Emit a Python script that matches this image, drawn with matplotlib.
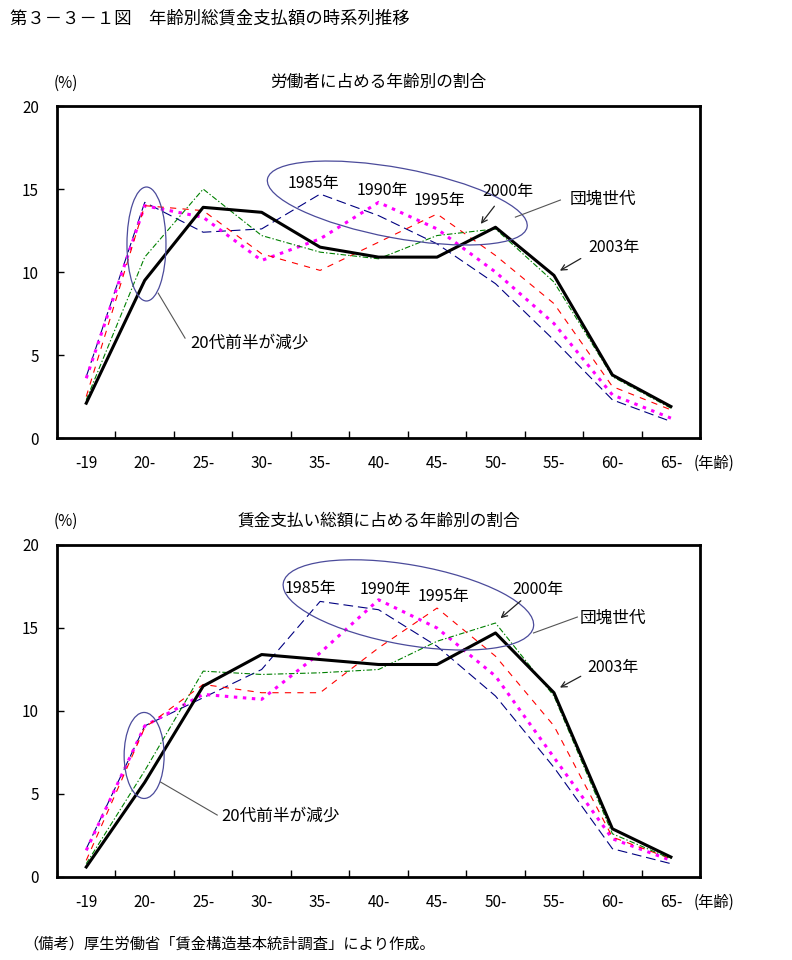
import matplotlib.pyplot as plt
from matplotlib.patches import Ellipse
from matplotlib import transforms

plt.rcParams['font.family'] = ['Noto Sans CJK JP', 'DejaVu Sans']
plt.rcParams['lines.scale_dashes'] = False

ages = ["-19", "20-", "25-", "30-", "35-", "40-", "45-", "50-", "55-", "60-", "65-"]
years = ["1985", "1990", "1995", "2000", "2003"]

# 労働者に占める年齢別の割合 (%)
workers = {
    "1985": [3.7, 14.2, 12.4, 12.6, 14.7, 13.4, 11.7, 9.3, 5.9, 2.3, 1.0],
    "1990": [3.6, 14.0, 13.3, 10.7, 12.0, 14.2, 12.6, 10.0, 6.9, 2.6, 1.2],
    "1995": [2.5, 14.0, 13.7, 11.1, 10.1, 11.8, 13.5, 11.0, 8.1, 3.1, 1.7],
    "2000": [2.3, 10.9, 15.0, 12.2, 11.2, 10.8, 12.2, 12.6, 9.4, 3.7, 1.8],
    "2003": [2.1, 9.5, 13.9, 13.6, 11.5, 10.9, 10.9, 12.7, 9.8, 3.8, 1.9],
}

# 賃金支払い総額に占める年齢別の割合 (%)
wages = {
    "1985": [1.7, 9.1, 10.8, 12.5, 16.6, 16.1, 13.9, 10.9, 6.6, 1.7, 0.8],
    "1990": [1.6, 9.1, 11.0, 10.7, 13.5, 16.7, 15.0, 12.1, 7.2, 2.3, 1.0],
    "1995": [1.0, 9.0, 11.6, 11.1, 11.1, 13.8, 16.2, 13.3, 9.1, 2.4, 1.1],
    "2000": [0.8, 6.4, 12.4, 12.2, 12.3, 12.5, 14.2, 15.3, 10.9, 2.6, 1.1],
    "2003": [0.6, 5.7, 11.5, 13.4, 13.1, 12.8, 12.8, 14.7, 11.1, 2.9, 1.2],
}

styles = {
    "1985": dict(color="#000080", lw=0.8, dashes=(7, 3.5)),
    "1990": dict(color="#ff00ff", lw=2.2, dashes=(2.5, 4)),
    "1995": dict(color="#ff0000", lw=0.8, dashes=(4.5, 4.5)),
    "2000": dict(color="#008000", lw=0.8, dashes=(4, 1.5, 1, 1.5)),
    "2003": dict(color="black", lw=2.2),
}

fig = plt.figure(figsize=(7.92, 9.6), dpi=100)
fig.text(0.013, 0.981, "第３－３－１図　年齢別総賃金支払額の時系列推移",
         fontsize=12.5, ha="left", va="center")
fig.text(0.03, 0.017, "（備考）厚生労働省「賃金構造基本統計調査」により作成。",
         fontsize=11, ha="left", va="center")

ax_top = fig.add_axes([0.072, 0.5437, 0.812, 0.3458])
ax_bot = fig.add_axes([0.072, 0.0865, 0.812, 0.3458])

panels = [
    (ax_top, workers, "労働者に占める年齢別の割合"),
    (ax_bot, wages, "賃金支払い総額に占める年齢別の割合"),
]

x = list(range(len(ages)))
for ax, data, title in panels:
    for yr in years:
        st = styles[yr]
        kw = dict(color=st["color"], linewidth=st["lw"], zorder=5 if yr == "2003" else 3)
        if "dashes" in st:
            kw["dashes"] = st["dashes"]
        ax.plot(x, data[yr], **kw)
    ax.set_xlim(-0.5, 10.5)
    ax.set_ylim(0, 20)
    ax.set_yticks([0, 5, 10, 15, 20])
    ax.set_xticks([i + 0.5 for i in range(-1, 11)], minor=False)
    ax.set_xticklabels([])
    ax.set_xticks(x, minor=True)
    ax.set_xticklabels(ages, minor=True)
    ax.tick_params(axis="x", which="major", direction="in", length=5, width=1)
    ax.tick_params(axis="x", which="minor", length=0, pad=12, labelsize=11)
    ax.tick_params(axis="y", direction="in", length=5, width=1, pad=13, labelsize=11)
    for s in ax.spines.values():
        s.set_linewidth(2)
    ax.set_title(title, fontsize=12, pad=14)
    ax.text(-0.005, 1.07, "(%)", transform=ax.transAxes, fontsize=11, ha="left", va="center")
    ax.text(0.99, -0.077, "(年齢)", transform=ax.transAxes, fontsize=11, ha="left", va="center")


def ellipse(ax, cx, cy, w_px, h_px, angle=0):
    tr = fig.dpi_scale_trans + transforms.ScaledTranslation(cx, cy, ax.transData)
    e = Ellipse((0, 0), w_px / 100, h_px / 100, angle=angle, transform=tr,
                fill=False, edgecolor="#4b4b9b", linewidth=0.9, zorder=6)
    ax.add_patch(e)


def label(ax, s, xy, size=11.5):
    ax.text(xy[0], xy[1], s, fontsize=size, ha="center", va="center", zorder=7)


def arrow(ax, start, tip):
    ax.annotate("", xy=tip, xytext=start,
                arrowprops=dict(arrowstyle="->", color="#222222", lw=0.9), zorder=7)


def leader(ax, start, end):
    ax.plot([start[0], end[0]], [start[1], end[1]], color="#555555", lw=0.8, zorder=6)


# top panel annotations
ellipse(ax_top, 1.03, 11.69, 39, 114)
ellipse(ax_top, 5.32, 14.16, 264, 70, -10.5)
label(ax_top, "1985年", (3.88, 15.36))
label(ax_top, "1990年", (5.06, 14.94))
label(ax_top, "1995年", (6.04, 14.34))
label(ax_top, "2000年", (7.22, 14.88))
label(ax_top, "団塊世代", (8.83, 14.4), 12)
label(ax_top, "2003年", (9.03, 11.5))
label(ax_top, "20代前半が減少", (2.8, 5.72), 12)
arrow(ax_top, (7.01, 14.1), (6.72, 12.77))
arrow(ax_top, (8.5, 10.9), (8.06, 10.0))
leader(ax_top, (8.11, 14.34), (7.34, 13.31))
leader(ax_top, (1.69, 6.02), (1.23, 8.73))

# bottom panel annotations
ellipse(ax_bot, 0.99, 7.32, 40, 86)
ellipse(ax_bot, 5.51, 16.39, 254, 80, -10)
label(ax_bot, "1985年", (3.83, 17.35))
label(ax_bot, "1990年", (5.11, 17.29))
label(ax_bot, "1995年", (6.11, 16.87))
label(ax_bot, "2000年", (7.73, 17.29))
label(ax_bot, "団塊世代", (9.0, 15.6), 12)
label(ax_bot, "2003年", (9.01, 12.59))
label(ax_bot, "20代前半が減少", (3.32, 3.67), 12)
arrow(ax_bot, (7.47, 16.75), (7.05, 15.48))
arrow(ax_bot, (8.5, 12.17), (8.06, 11.33))
leader(ax_bot, (8.4, 15.66), (7.65, 14.7))
leader(ax_bot, (2.24, 3.73), (1.27, 5.72))

fig.savefig("out.png", dpi=100)
